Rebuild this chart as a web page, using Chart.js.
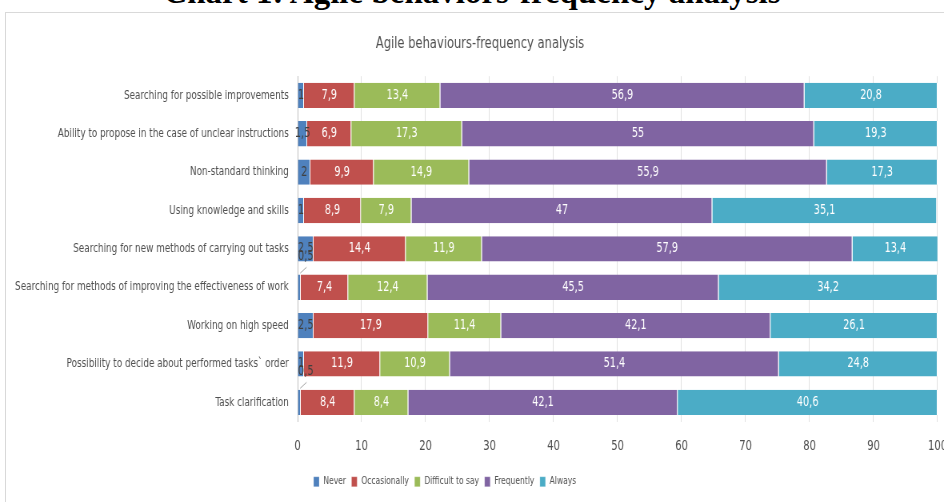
<!DOCTYPE html>
<html>
<head>
<meta charset="utf-8">
<script src="https://cdn.jsdelivr.net/npm/chart.js@4"></script>
<style>
  html, body { margin: 0; padding: 0; background: #fff; overflow: hidden; width: 944px; height: 502px; }
  #pageTitle {
    position: absolute; left: 0; width: 944px; top: -24px; text-align: center;
    font: bold 33px "Liberation Serif", "DejaVu Serif", serif; color: #000; line-height: 33px;
  }
  #frame { position: absolute; left: 5px; top: 12px; width: 1000px; height: 600px; border: 1px solid #d9d9d9; }
  /* the original chart text is very narrow, so the whole canvas is squeezed horizontally */
  #wrap { position: absolute; left: 0; top: 0; width: 1200px; height: 502px; transform: scaleX(0.8); transform-origin: 0 0; }
</style>
</head>
<body>
<div id="pageTitle">Chart 1: Agile behaviors-frequency analysis</div>
<div id="frame"></div>
<div id="wrap"><canvas id="chart"></canvas></div>
<script>
// categories (top to bottom)
const categories = [
  'Searching for possible improvements',
  'Ability to propose in the case of unclear instructions',
  'Non-standard thinking',
  'Using knowledge and skills',
  'Searching for new methods of carrying out tasks',
  'Searching for methods of improving the effectiveness of work',
  'Working on high speed',
  'Possibility to decide about performed tasks` order',
  'Task clarification'
];

// series values (%)
const never        = [1, 1.5, 2, 1, 2.5, 0.5, 2.5, 1, 0.5];
const occasionally = [7.9, 6.9, 9.9, 8.9, 14.4, 7.4, 17.9, 11.9, 8.4];
const difficult    = [13.4, 17.3, 14.9, 7.9, 11.9, 12.4, 11.4, 10.9, 8.4];
const frequently   = [56.9, 55, 55.9, 47, 57.9, 45.5, 42.1, 51.4, 42.1];
const always       = [20.8, 19.3, 17.3, 35.1, 13.4, 34.2, 26.1, 24.8, 40.6];

const seriesNames = ['Never', 'Occasionally', 'Difficult to say', 'Frequently', 'Always'];
const xTicks = [0, 10, 20, 30, 40, 50, 60, 70, 80, 90, 100];

const FONT = '"DejaVu Sans Condensed", "Liberation Sans Narrow", "Open Sans", sans-serif';
const TEXT = '#505050';

// label bars with their values (comma decimals, like the original)
const barLabels = {
  id: 'barLabels',
  afterLayout(chart) {
    // legend sits a little right of the plot's left edge in the original
    chart.legend.left += 13;
    chart.legend.right += 13;
  },
  afterDatasetsDraw(chart) {
    const ctx = chart.ctx;
    ctx.save();
    ctx.font = '13.5px ' + FONT;
    ctx.textAlign = 'center';
    ctx.textBaseline = 'middle';
    chart.data.datasets.forEach((ds, i) => {
      const meta = chart.getDatasetMeta(i);
      meta.data.forEach((bar, j) => {
        const v = ds.data[j];
        const txt = String(v).replace('.', ',');
        const cx = (bar.x + bar.base) / 2;
        if (v < 1) {
          // too small, label pushed above like Excel did
          ctx.strokeStyle = '#a6a6a6';
          ctx.lineWidth = 1;
          ctx.beginPath();
          ctx.moveTo(cx + 1, bar.y - 14);
          ctx.lineTo(cx + 9, bar.y - 20);
          ctx.stroke();
          ctx.fillStyle = '#404040';
          ctx.fillText(txt, cx + 8, bar.y - 31);
        } else {
          ctx.fillStyle = i === 0 ? '#404040' : '#ffffff';
          ctx.fillText(txt, cx, bar.y);
        }
      });
    });
    ctx.restore();
  }
};

const colors = ['#4f81bd', '#c0504d', '#9bbb59', '#8064a2', '#4bacc6'];
const values = [never, occasionally, difficult, frequently, always];

new Chart(document.getElementById('chart'), {
  type: 'bar',
  data: {
    labels: categories,
    datasets: values.map((d, i) => ({
      label: seriesNames[i],
      data: d,
      backgroundColor: colors[i],
      borderColor: '#ffffff',
      borderWidth: { right: 1 },
      borderSkipped: false,
      barPercentage: 0.66,
      categoryPercentage: 1
    }))
  },
  options: {
    indexAxis: 'y',
    responsive: true,
    maintainAspectRatio: false,
    animation: false,
    layout: { padding: { left: 0, right: 0, top: 0, bottom: 5 } },
    plugins: {
      title: {
        display: true,
        text: 'Agile behaviours-frequency analysis',
        color: TEXT,
        font: { family: FONT, size: 16, weight: 'normal' },
        padding: { top: 34, bottom: 23 }
      },
      legend: {
        position: 'bottom',
        align: 'start',
        fullSize: false,
        labels: {
          color: TEXT,
          font: { family: FONT, size: 10.5 },
          boxWidth: 7,
          boxHeight: 10,
          padding: 7
        }
      },
      tooltip: { enabled: false }
    },
    scales: {
      x: {
        stacked: true,
        min: 0,
        max: 100,
        afterBuildTicks: s => { s.ticks = xTicks.map(v => ({ value: v })); },
        afterFit: s => { s.height = 48; },
        ticks: { color: TEXT, font: { family: FONT, size: 14 }, padding: 16 },
        grid: { color: '#e0e0e0', drawTicks: false },
        border: { display: false }
      },
      y: {
        stacked: true,
        afterFit: s => { s.width = 372; },
        ticks: { color: TEXT, font: { family: FONT, size: 12.3 }, padding: 11 },
        grid: { display: false, drawTicks: false },
        border: { display: true, color: '#bfbfbf' }
      }
    }
  },
  plugins: [barLabels]
});
</script>
</body>
</html>
